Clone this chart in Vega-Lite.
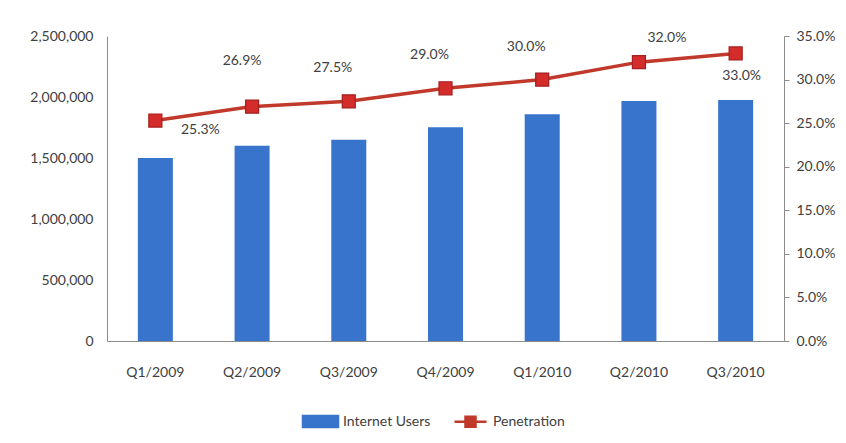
{
  "$schema": "https://vega.github.io/schema/vega-lite/v6.json",
  "width": 677,
  "height": 305,
  "autosize": {"type": "none"},
  "padding": {"left": 107, "top": 36, "right": 62, "bottom": 102},
  "background": "white",
  "config": {
    "view": {"stroke": null},
    "font": "Lato",
    "axis": {"labelFont": "Lato", "labelFontSize": 14, "labelColor": "#404040", "domainColor": "#8C8C8C", "tickColor": "#8C8C8C", "grid": false},
    "legend": {"labelFont": "Lato", "labelFontSize": 14, "labelColor": "#404040"}
  },
  "data": {"values": [
    {"quarter": "Q1/2009", "users": 1500000, "penetration": 0.253},
    {"quarter": "Q2/2009", "users": 1600000, "penetration": 0.269},
    {"quarter": "Q3/2009", "users": 1650000, "penetration": 0.275},
    {"quarter": "Q4/2009", "users": 1752000, "penetration": 0.290},
    {"quarter": "Q1/2010", "users": 1858000, "penetration": 0.300},
    {"quarter": "Q2/2010", "users": 1967000, "penetration": 0.320},
    {"quarter": "Q3/2010", "users": 1975000, "penetration": 0.330}
  ]},
  "encoding": {
    "x": {"field": "quarter", "type": "nominal", "sort": null,
      "scale": {"paddingInner": 0.638, "paddingOuter": 0.319},
      "axis": {"title": null, "labelAngle": 0, "ticks": false, "labelPadding": 24}}
  },
  "layer": [
    {
      "mark": {"type": "bar"},
      "encoding": {
        "y": {"field": "users", "type": "quantitative", "scale": {"domain": [0, 2500000], "nice": false},
          "axis": {"title": null, "format": ",.0f", "values": [0, 500000, 1000000, 1500000, 2000000, 2500000], "ticks": false, "labelPadding": 14}},
        "color": {"datum": "Internet Users", "type": "nominal",
          "scale": {"domain": ["Internet Users", "Penetration"], "range": ["#3874CC", "#C0392B"]},
          "legend": {
            "title": null, "orient": "none", "direction": "horizontal",
            "legendX": 202, "legendY": 374,
            "symbolSize": 400, "labelOffset": 11, "columnPadding": 18,
            "encode": {"symbols": {"update": {
              "shape": {"signal": "datum.value === 'Penetration' ? 'M-1.6,0H1.6M-0.5,-0.5H0.5V0.5H-0.5Z' : 'M-1.75,-0.55H1.75V0.55H-1.75Z'"},
              "fill": {"signal": "datum.value === 'Penetration' ? '#D42B2B' : '#3874CC'"},
              "stroke": {"signal": "datum.value === 'Penetration' ? '#C0392B' : 'transparent'"},
              "strokeWidth": {"value": 2.5},
              "opacity": {"value": 1}
            }}}
          }}
      }
    },
    {
      "encoding": {
        "y": {"field": "penetration", "type": "quantitative", "scale": {"domain": [0, 0.35], "nice": false},
          "axis": {"orient": "right", "title": null, "format": ".1%", "values": [0, 0.05, 0.1, 0.15, 0.2, 0.25, 0.3, 0.35], "tickSize": 5, "labelPadding": 7}}
      },
      "layer": [
        {"mark": {"type": "line", "strokeWidth": 3.5}, "encoding": {"color": {"datum": "Penetration", "type": "nominal"}}},
        {"mark": {"type": "square", "size": 170, "fill": "#D42B2B", "stroke": "#A51F1F", "strokeWidth": 1.2, "opacity": 1}},
        {"transform": [{"filter": {"field": "quarter", "equal": "Q2/2009"}}],
          "mark": {"type": "text", "dx": -10, "dy": -46, "fontSize": 14, "color": "#404040"},
          "encoding": {"text": {"field": "penetration", "format": ".1%"}}},
        {"transform": [{"filter": {"field": "quarter", "oneOf": ["Q3/2009", "Q4/2009", "Q1/2010"]}}],
          "mark": {"type": "text", "dx": -16, "dy": -33, "fontSize": 14, "color": "#404040"},
          "encoding": {"text": {"field": "penetration", "format": ".1%"}}},
        {"transform": [{"filter": {"field": "quarter", "equal": "Q2/2010"}}],
          "mark": {"type": "text", "dx": 28, "dy": -24, "fontSize": 14, "color": "#404040"},
          "encoding": {"text": {"field": "penetration", "format": ".1%"}}},
        {"transform": [{"filter": {"field": "quarter", "equal": "Q1/2009"}}],
          "mark": {"type": "text", "dx": 45, "dy": 9, "fontSize": 14, "color": "#404040"},
          "encoding": {"text": {"field": "penetration", "format": ".1%"}}},
        {"transform": [{"filter": {"field": "quarter", "equal": "Q3/2010"}}],
          "mark": {"type": "text", "dx": 6, "dy": 23, "fontSize": 14, "color": "#404040"},
          "encoding": {"text": {"field": "penetration", "format": ".1%"}}}
      ]
    }
  ],
  "resolve": {"scale": {"y": "independent"}}
}
